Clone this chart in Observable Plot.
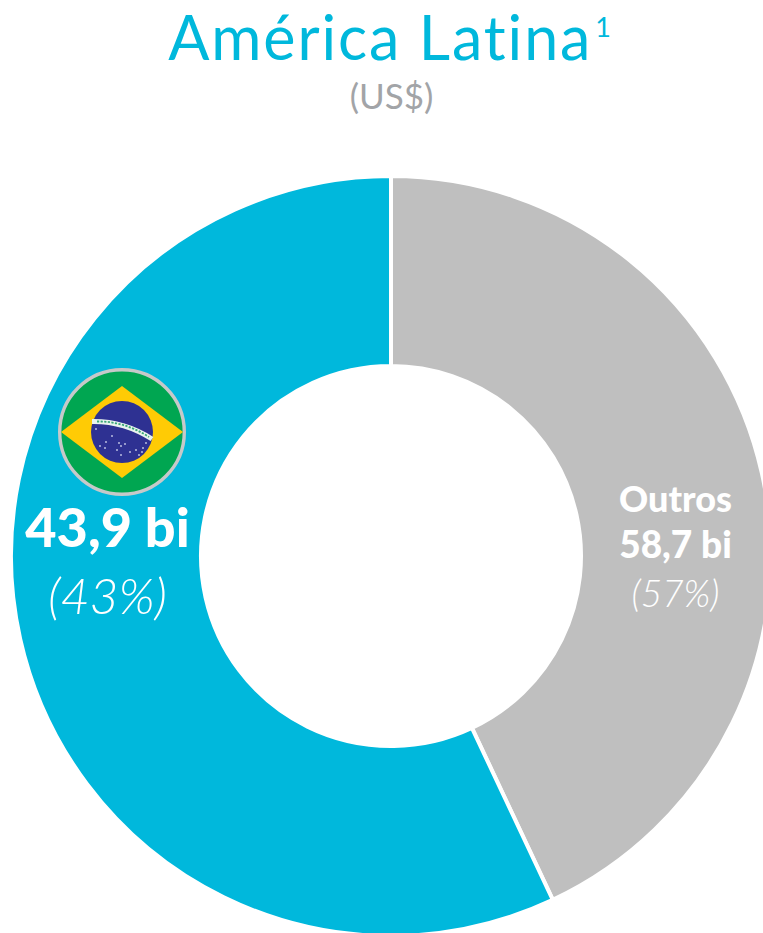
<!DOCTYPE html>
<html lang="pt">
<head>
<meta charset="utf-8">
<script src="https://cdn.jsdelivr.net/npm/d3@7"></script>
<script src="https://cdn.jsdelivr.net/npm/@observablehq/plot@0.6"></script>
<style>
html,body{margin:0;padding:0;background:#fff;overflow:hidden}
#head{position:relative;width:763px;height:130px;font-family:Lato,sans-serif;text-align:center}
#title{position:absolute;left:0;right:0;top:2px;padding-left:18px;font-size:61px;line-height:70px;color:#00b8dc;letter-spacing:1.9px;white-space:nowrap}
#title sup{font-size:27px;line-height:0;vertical-align:baseline;position:relative;top:-23px;margin-left:3px}
#sub{position:absolute;left:0;right:0;top:72px;padding-left:20px;font-size:35px;line-height:46px;color:#a2a4a7}
svg{display:block}
</style>
</head>
<body>
<div id="head">
  <div id="title">América Latina<sup>1</sup></div>
  <div id="sub">(US$)</div>
</div>
<div id="chart"></div>
<script>
// Slice shares, clockwise from twelve o'clock, as drawn in the picture
const sliceNames = ["Outros", "Brasil"];
const sliceShares = [43, 57];
const sliceColors = ["#bfbfbf", "#00b8dc"];

// Printed labels
const brazilLabels = ["43,9 bi", "(43%)"];
const otherLabels = ["Outros", "58,7 bi", "(57%)"];

// Layout (pixels in the svg)
const W = 763, H = 803, CX = 391, CY = 426, R = 380, r = 190;
const FONT = 'Lato, sans-serif';

const slices = d3.pie().sort(null).value((d, i) => sliceShares[i])(sliceNames);
const arc = d3.arc().innerRadius(r).outerRadius(R);

function ring(index, {x, y}) {
  const g = d3.create("svg:g")
    .attr("transform", `translate(${x(CX)},${y(CY)})`);
  g.selectAll("path").data(slices).join("path")
    .attr("d", arc)
    .attr("fill", (d, i) => sliceColors[i])
    .attr("stroke", "#fff")
    .attr("stroke-width", 4);
  return g.node();
}

const starOffsets = [[-26,-3],[-10,4],[-22,14],[-17,16],[-16,10],[-3,11],[3,12],[-1,23],[-1,14],[14,18],[17,23],[21,16],[24,11],[20,20],[-5,18],[8,20]];

function flag(index, {x, y}) {
  const g = d3.create("svg:g")
    .attr("transform", `translate(${x(122)},${y(302)})`);
  g.append("circle").attr("r", 62.3).attr("fill", "#00a651")
    .attr("stroke", "#c6c9c9").attr("stroke-width", 3.4);
  g.append("path").attr("d", "M-61,0L0,-46L61,0L0,46Z").attr("fill", "#ffcb05");
  g.append("circle").attr("r", 31).attr("fill", "#2e3192");
  g.append("path").attr("d", "M-30,-10.5Q2,-11 30,7")
    .attr("fill", "none").attr("stroke", "#e9f3ee").attr("stroke-width", 5);
  g.append("path").attr("d", "M-25,-10.5Q2,-11 27,5")
    .attr("fill", "none").attr("stroke", "#3aa878").attr("stroke-width", 1.8)
    .attr("stroke-dasharray", "2.2 1.4");
  g.selectAll("circle.star").data(starOffsets).join("circle")
    .attr("class", "star").attr("cx", d => d[0]).attr("cy", d => d[1])
    .attr("r", 1).attr("fill", "#b9bbdf");
  return g.node();
}

const label = (text, px, py, size, weight, style) =>
  Plot.text([text], {
    x: () => px, y: () => py, text: d => d,
    fontSize: size, fontWeight: weight, fontStyle: style || "normal",
    fontFamily: FONT, fill: "#fff", textAnchor: "middle", lineAnchor: "bottom"
  });

const chart = Plot.plot({
  width: W, height: H,
  margin: 0,
  style: {background: "transparent", overflow: "hidden"},
  x: {type: "identity", axis: null},
  y: {type: "identity", axis: null},
  marks: [
    ring,
    flag,
    label(brazilLabels[0], 107, 416, 54, 900),
    label(brazilLabels[1], 107, 483, 50, 300, "italic"),
    label(otherLabels[0], 675, 381, 36, 900),
    label(otherLabels[1], 675, 427, 37, 900),
    label(otherLabels[2], 675, 476, 37, 300, "italic")
  ]
});
document.getElementById("chart").append(chart);
</script>
</body>
</html>
